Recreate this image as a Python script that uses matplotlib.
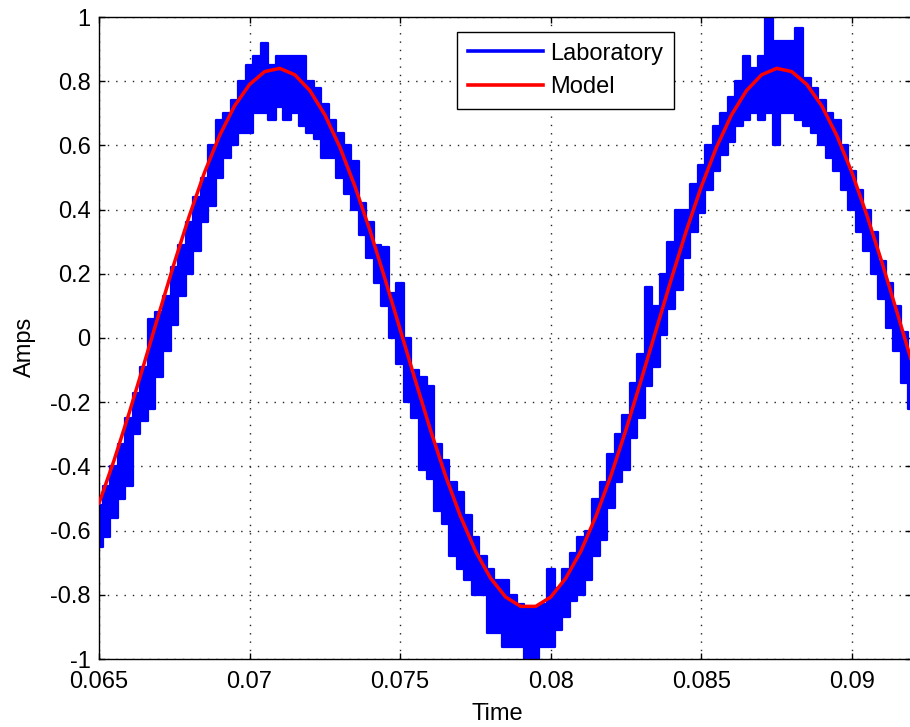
import numpy as np
import matplotlib
matplotlib.use("Agg")
import matplotlib.pyplot as plt
from matplotlib.lines import Line2D

# ---------------- data ----------------
# Model curve, sampled every 0.5 ms from 0.065 s
model_t0 = 0.065
model_dt = 0.0005
model_amps = [-0.515, -0.381, -0.234, -0.079, 0.079, 0.234, 0.381, 0.515, 0.630, 0.723,
              0.790, 0.830, 0.840, 0.820, 0.771, 0.695, 0.594, 0.472, 0.334, 0.183,
              0.026, -0.131, -0.285, -0.428, -0.555, -0.664, -0.748, -0.807, -0.836, -0.836,
              -0.807, -0.748, -0.664, -0.555, -0.428, -0.285, -0.131, 0.026, 0.183, 0.334,
              0.472, 0.594, 0.695, 0.771, 0.820, 0.840, 0.830, 0.790, 0.723, 0.630,
              0.515, 0.381, 0.234, 0.079, -0.079]

# Laboratory measurement: upper / lower extent of the noisy trace every 0.25 ms
lab_t0 = 0.065
lab_dt = 0.00025
lab_high = [-0.52, -0.46, -0.40, -0.33, -0.25, -0.17, -0.09, 0.06, 0.08, 0.13,
            0.22, 0.29, 0.36, 0.44, 0.50, 0.60, 0.68, 0.70, 0.74, 0.80,
            0.85, 0.88, 0.92, 0.85, 0.88, 0.88, 0.88, 0.88, 0.80, 0.78,
            0.73, 0.68, 0.64, 0.60, 0.55, 0.42, 0.36, 0.29, 0.285, 0.14,
            0.17, 0.00, -0.10, -0.12, -0.15, -0.33, -0.38, -0.45, -0.48, -0.55,
            -0.62, -0.68, -0.72, -0.755, -0.755, -0.80, -0.83, -0.84, -0.84, -0.83,
            -0.72, -0.78, -0.72, -0.67, -0.62, -0.60, -0.50, -0.45, -0.36, -0.30,
            -0.24, -0.14, -0.05, 0.16, 0.10, 0.20, 0.30, 0.40, 0.40, 0.48,
            0.54, 0.60, 0.66, 0.70, 0.75, 0.80, 0.88, 0.84, 0.88, 1.00,
            0.925, 0.925, 0.925, 0.967, 0.81, 0.78, 0.74, 0.70, 0.68, 0.60,
            0.52, 0.46, 0.40, 0.33, 0.24, 0.17, 0.10, 0.02, -0.04]
lab_low = [-0.65, -0.62, -0.56, -0.50, -0.46, -0.30, -0.26, -0.22, -0.12, -0.04,
           0.04, 0.13, 0.20, 0.27, 0.36, 0.41, 0.50, 0.56, 0.60, 0.64,
           0.64, 0.70, 0.70, 0.68, 0.72, 0.68, 0.70, 0.66, 0.64, 0.62,
           0.56, 0.56, 0.50, 0.45, 0.40, 0.32, 0.25, 0.17, 0.10, 0.00,
           -0.08, -0.20, -0.25, -0.41, -0.44, -0.54, -0.58, -0.68, -0.72, -0.755,
           -0.80, -0.80, -0.92, -0.92, -0.963, -0.963, -0.963, -1.00, -1.00, -0.963,
           -0.963, -0.91, -0.87, -0.818, -0.80, -0.755, -0.68, -0.63, -0.53, -0.45,
           -0.41, -0.31, -0.25, -0.15, -0.09, 0.01, 0.09, 0.15, 0.25, 0.33,
           0.39, 0.46, 0.52, 0.57, 0.61, 0.66, 0.68, 0.70, 0.68, 0.70,
           0.60, 0.70, 0.70, 0.68, 0.66, 0.64, 0.60, 0.56, 0.52, 0.46,
           0.40, 0.33, 0.27, 0.20, 0.12, 0.03, -0.04, -0.14, -0.22]

x_ticks = [0.065, 0.07, 0.075, 0.08, 0.085, 0.09]
x_ticklabels = ["0.065", "0.07", "0.075", "0.08", "0.085", "0.09"]
y_ticks = [-1, -0.8, -0.6, -0.4, -0.2, 0, 0.2, 0.4, 0.6, 0.8, 1]
y_ticklabels = ["-1", "-0.8", "-0.6", "-0.4", "-0.2", "0", "0.2", "0.4", "0.6", "0.8", "1"]
series_names = ["Laboratory", "Model"]

# ---------------- figure ----------------
plt.rcParams['font.family'] = ['Liberation Sans', 'DejaVu Sans']
FS = 17
W, H = 910, 727
fig = plt.figure(figsize=(W / 100, H / 100), dpi=100)
fig.patch.set_facecolor('white')

ax_left, ax_right, ax_top, ax_bottom = 99, 910.7, 17, 659
ax = fig.add_axes([ax_left / W, 1 - ax_bottom / H, (ax_right - ax_left) / W, (ax_bottom - ax_top) / H])

lab_time = lab_t0 + lab_dt * np.arange(len(lab_high))
model_time = model_t0 + model_dt * np.arange(len(model_amps))

blue = '#0000ff'
red = '#ff0000'

ax.fill_between(lab_time, lab_low, lab_high, step='mid', color=blue, linewidth=0, zorder=2)
ax.plot(lab_time, lab_high, drawstyle='steps-mid', color=blue, lw=1.6, zorder=2)
ax.plot(lab_time, lab_low, drawstyle='steps-mid', color=blue, lw=1.6, zorder=2)
ax.plot(model_time, model_amps, color=red, lw=2.5, zorder=3, solid_capstyle='round')

ax.set_xlim(0.065, 0.09195)
ax.set_ylim(-1, 1)
ax.set_xticks(x_ticks)
ax.set_xticklabels(x_ticklabels)
ax.set_yticks(y_ticks)
ax.set_yticklabels(y_ticklabels)

ax.tick_params(direction='in', length=4.5, width=1, top=True, right=True,
               labelsize=FS, colors='black', pad=6)
ax.tick_params(axis='x', pad=8.5)
for s in ax.spines.values():
    s.set_linewidth(1.0)
    s.set_color('black')

ax.grid(True, color='#222222', linestyle=(0, (1, 5)), linewidth=1.0)
ax.set_axisbelow(True)

ax.set_xlabel("Time", fontsize=FS, va='center')
ax.xaxis.set_label_coords((497 - ax_left) / (ax_right - ax_left), (ax_bottom - 714) / (ax_bottom - ax_top))
ax.set_ylabel("Amps", fontsize=FS, va='center', ha='center')
ax.yaxis.set_label_coords((25 - ax_left) / (ax_right - ax_left), (ax_bottom - 347) / (ax_bottom - ax_top))

handles = [Line2D([], [], color=blue, lw=2.6), Line2D([], [], color=red, lw=2.6)]
leg = ax.legend(handles, series_names, loc='upper left',
                bbox_to_anchor=((457 - ax_left) / (ax_right - ax_left), (ax_bottom - 32) / (ax_bottom - ax_top)),
                borderaxespad=0, fontsize=FS, frameon=True, fancybox=False, framealpha=1,
                edgecolor='black', handlelength=3.2, handletextpad=0.3, borderpad=0.45,
                labelspacing=0.5)
leg.get_frame().set_linewidth(1.0)

fig.savefig("out.png", dpi=100, facecolor='white')
